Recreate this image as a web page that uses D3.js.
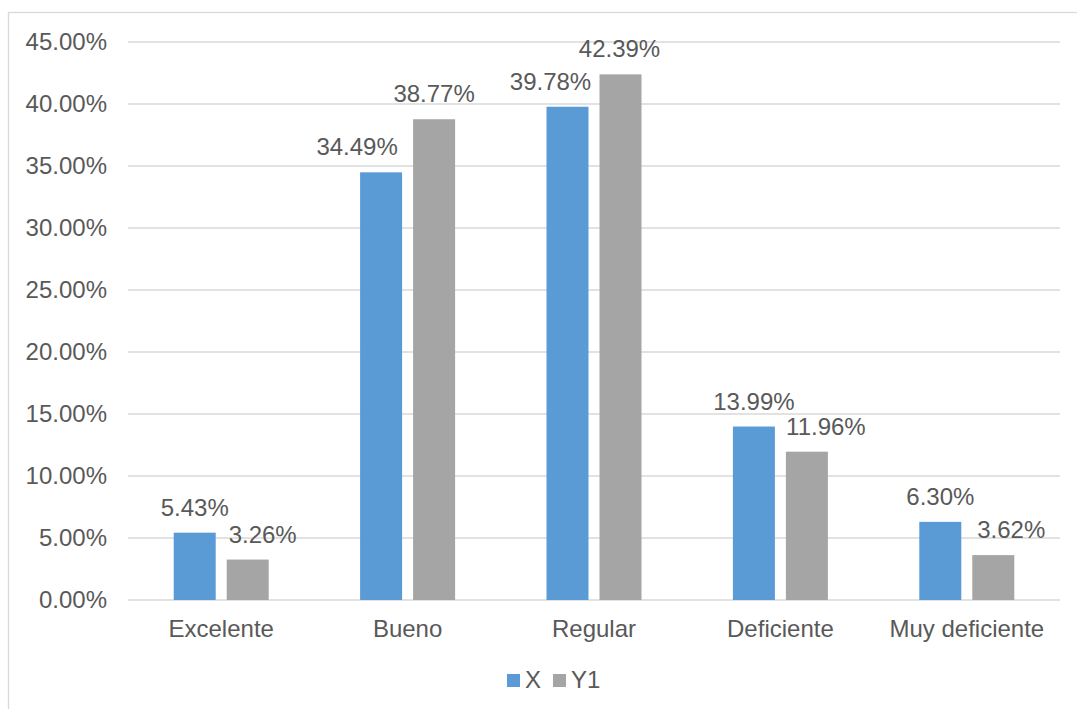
<!DOCTYPE html>
<html>
<head>
<meta charset="utf-8">
<script src="https://cdn.jsdelivr.net/npm/d3@7"></script>
<style>
  body { margin: 0; background: #fff; }
  text { font-family: "Liberation Sans", Arial, sans-serif; fill: #595959; }
</style>
</head>
<body>
<div id="chart"></div>
<script>
// data
const categories = ["Excelente", "Bueno", "Regular", "Deficiente", "Muy deficiente"];
const seriesNames = ["X", "Y1"];
const valuesX = [5.43, 34.49, 39.78, 13.99, 6.30];
const valuesY1 = [3.26, 38.77, 42.39, 11.96, 3.62];
const yTicks = [0, 5, 10, 15, 20, 25, 30, 35, 40, 45];

// labels were nudged by hand in the original, horizontal shift in px
const labelShift = { X: [0, -24, -17, 0, 0], Y1: [15, 0, -1, 19, 18] };

const width = 1077, height = 709;
const plot = { left: 128, right: 1060, top: 42, bottom: 600 };
const colors = { X: "#5b9bd5", Y1: "#a5a5a5" };
const fontSize = "24px";

const rows = categories.map((c, i) => ({ cat: c, i: i, X: valuesX[i], Y1: valuesY1[i] }));

const svg = d3.select("#chart").append("svg")
    .attr("width", width)
    .attr("height", height);

// outer frame
svg.append("rect")
    .attr("x", 8.5).attr("y", 12.5)
    .attr("width", width + 10).attr("height", height + 10)
    .attr("fill", "none")
    .attr("stroke", "#d9d9d9")
    .attr("stroke-width", 1.3);

// scales
const x0 = d3.scaleBand()
    .domain(categories)
    .range([plot.left, plot.right])
    .paddingInner(0).paddingOuter(0);

const groupW = 95;
const x1 = d3.scaleBand()
    .domain(seriesNames)
    .range([0, groupW])
    .paddingInner(0.2075);

const y = d3.scaleLinear()
    .domain([0, 45])
    .range([plot.bottom, plot.top]);

// gridlines
svg.append("g")
    .selectAll("line")
    .data(yTicks)
    .join("line")
    .attr("x1", plot.left).attr("x2", plot.right)
    .attr("y1", d => y(d)).attr("y2", d => y(d))
    .attr("stroke", "#d9d9d9")
    .attr("stroke-width", 1.5);

// y axis labels
const yAxis = svg.append("g")
    .attr("transform", `translate(${plot.left}, 0)`)
    .call(d3.axisLeft(y).tickValues(yTicks).tickSize(0).tickPadding(21)
        .tickFormat(d => d.toFixed(2) + "%"));
yAxis.select(".domain").remove();
yAxis.selectAll("text")
    .style("font-family", "'Liberation Sans', Arial, sans-serif")
    .style("font-size", fontSize)
    .attr("fill", "#595959");

// bars
const groups = svg.append("g")
    .selectAll("g")
    .data(rows)
    .join("g")
    .attr("transform", d => `translate(${x0(d.cat) + x0.bandwidth() / 2 - groupW / 2}, 0)`);

groups.selectAll("rect")
    .data(d => seriesNames.map(k => ({ key: k, value: d[k], i: d.i })))
    .join("rect")
    .attr("x", d => x1(d.key))
    .attr("y", d => y(d.value))
    .attr("width", x1.bandwidth())
    .attr("height", d => y(0) - y(d.value))
    .attr("fill", d => colors[d.key]);

// data labels
groups.selectAll("text")
    .data(d => seriesNames.map(k => ({ key: k, value: d[k], i: d.i })))
    .join("text")
    .attr("x", d => x1(d.key) + x1.bandwidth() / 2 + labelShift[d.key][d.i])
    .attr("y", d => y(d.value) - 17)
    .attr("text-anchor", "middle")
    .style("font-size", fontSize)
    .text(d => d.value.toFixed(2) + "%");

// category labels
const xAxis = svg.append("g")
    .attr("transform", `translate(0, ${plot.bottom})`)
    .call(d3.axisBottom(x0).tickSize(0).tickPadding(20));
xAxis.select(".domain").remove();
xAxis.selectAll("text")
    .style("font-family", "'Liberation Sans', Arial, sans-serif")
    .style("font-size", fontSize)
    .attr("fill", "#595959");

// legend
const legendItems = [
    { key: "X", x: 507 },
    { key: "Y1", x: 553 }
];
const legend = svg.append("g");
legendItems.forEach(it => {
    legend.append("rect")
        .attr("x", it.x).attr("y", 674)
        .attr("width", 13).attr("height", 13)
        .attr("fill", colors[it.key]);
    legend.append("text")
        .attr("x", it.x + 18).attr("y", 688)
        .style("font-size", fontSize)
        .text(it.key);
});
</script>
</body>
</html>
